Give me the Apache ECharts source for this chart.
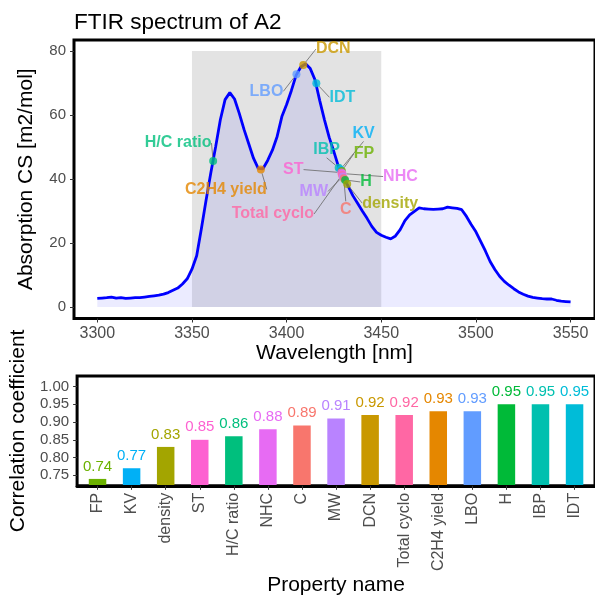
<!DOCTYPE html>
<html>
<head>
<meta charset="utf-8">
<script src="https://cdn.jsdelivr.net/npm/echarts@6/dist/echarts.min.js"></script>
<style>
  html, body { margin: 0; padding: 0; background: #ffffff; }
  #chart { width: 595px; height: 597px; }
</style>
</head>
<body>
<div id="chart"></div>
<script>
// FTIR absorption spectrum (every 2.5 nm)
const wavelength = [
  3300, 3302.5, 3305, 3307.5, 3310, 3312.5, 3315, 3317.5, 3320, 3322.5,
  3325, 3327.5, 3330, 3332.5, 3335, 3337.5, 3340, 3342.5, 3345, 3347.5,
  3350, 3352.5, 3355, 3357.5, 3360, 3362.5, 3365, 3367.5, 3370, 3372.5,
  3375, 3377.5, 3380, 3382.5, 3385, 3387.5, 3390, 3392.5, 3395, 3397.5,
  3400, 3402.5, 3405, 3407.5, 3410, 3412.5, 3415, 3417.5, 3420, 3422.5,
  3425, 3427.5, 3430, 3432.5, 3435, 3437.5, 3440, 3442.5, 3445, 3447.5,
  3450, 3452.5, 3455, 3457.5, 3460, 3462.5, 3465, 3467.5, 3470, 3472.5,
  3475, 3477.5, 3480, 3482.5, 3485, 3487.5, 3490, 3492.5, 3495, 3497.5,
  3500, 3502.5, 3505, 3507.5, 3510, 3512.5, 3515, 3517.5, 3520, 3522.5,
  3525, 3527.5, 3530, 3532.5, 3535, 3537.5, 3540, 3542.5, 3545, 3547.5,
  3550
];
const absorption = [
  2.7, 2.8, 2.9, 3.1, 2.8, 2.9, 2.7, 2.8, 2.9, 2.9,
  3.1, 3.3, 3.5, 3.7, 4.0, 4.5, 5.2, 5.9, 7.2, 8.8,
  11.8, 16.0, 24.5, 33.5, 42.0, 50.0, 58.5, 64.8, 67.0, 65.0,
  60.5, 55.5, 51.0, 46.5, 43.3, 43.2, 45.8, 49.0, 53.3, 59.5,
  63.3, 67.6, 72.4, 75.0, 76.0, 74.5, 71.0, 64.5, 58.5, 53.0,
  48.5, 43.7, 40.3, 37.8, 34.8, 32.4, 30.0, 27.7, 25.2, 23.3,
  22.4, 21.8, 21.3, 22.2, 24.2, 27.0, 28.8, 29.9, 31.0, 30.7,
  30.6, 30.5, 30.6, 30.7, 31.2, 31.0, 30.8, 30.4, 28.3, 25.8,
  23.5, 20.5, 17.5, 14.2, 11.7, 9.6, 8.0, 6.8, 5.7, 4.7,
  4.0, 3.4, 3.0, 2.8, 2.6, 2.5, 2.5, 2.1, 1.8, 1.7,
  1.6
];

// Shaded wavelength window
const shadedBand = [3350, 3450];
const shadedTop = 80;

// Property markers placed on the spectrum
const markerNames = ['H/C ratio', 'C2H4 yield', 'LBO', 'DCN', 'IDT', 'IBP', 'KV', 'FP',
  'ST', 'NHC', 'Total cyclo', 'MW', 'C', 'H', 'density'];
const markerWavelength = [3361.2, 3386.4, 3405.2, 3408.8, 3415.7, 3427.5, 3428.5, 3429.2,
  3428.9, 3429.5, 3429.2, 3429.7, 3430.2, 3430.9, 3432.0];
const markerAbsorption = [45.6, 43.0, 72.7, 75.6, 69.9, 43.5, 43.0, 42.5,
  42.0, 41.7, 41.25, 40.8, 40.2, 39.7, 38.4];

// Correlation coefficients per property
const propertyNames = ['FP', 'KV', 'density', 'ST', 'H/C ratio', 'NHC', 'C', 'MW', 'DCN',
  'Total cyclo', 'C2H4 yield', 'LBO', 'H', 'IBP', 'IDT'];
const correlation = [0.74, 0.77, 0.83, 0.85, 0.86, 0.88, 0.89, 0.91, 0.92,
  0.92, 0.93, 0.93, 0.95, 0.95, 0.95];

// Tick labels
const wavelengthTicks = [3300, 3350, 3400, 3450, 3500, 3550];
const absorptionTicks = [0, 20, 40, 60, 80];
const correlationTicks = [0.75, 0.80, 0.85, 0.90, 0.95, 1.00];

// Hue palette keyed by property
const propertyColors = {
  'C': '#F8766D', 'C2H4 yield': '#E58700', 'DCN': '#C99800', 'density': '#A3A500',
  'FP': '#6BB100', 'H': '#00BA38', 'H/C ratio': '#00BF7D', 'IBP': '#00C0AF',
  'IDT': '#00BCD8', 'KV': '#00B0F6', 'LBO': '#619CFF', 'MW': '#B983FF',
  'NHC': '#E76BF3', 'ST': '#FD61D1', 'Total cyclo': '#FF67A4'
};

// Repelled label placement (pixel offset of label centre from its point)
const labelShift = {
  'H/C ratio': [-35, -18], 'C2H4 yield': [-35, 20], 'LBO': [-30, 17], 'DCN': [30, -16],
  'IDT': [26, 14], 'IBP': [-12, -18], 'KV': [23, -36], 'FP': [22, -17],
  'ST': [-48, -3], 'NHC': [58, 3], 'Total cyclo': [-69, 39], 'MW': [-29, 15],
  'C': [2, 31], 'H': [21, 2], 'density': [43, 19]
};

const FONT = 'Liberation Sans, Arial, Helvetica, sans-serif';
const TICK_GREY = '#4d4d4d';

const chart = echarts.init(document.getElementById('chart'), null, { renderer: 'canvas' });

const option = {
  animation: false,
  backgroundColor: '#ffffff',
  textStyle: { fontFamily: FONT },
  title: {
    text: 'FTIR spectrum of A2',
    left: 69,
    top: 6,
    textStyle: { fontFamily: FONT, fontSize: 22.5, fontWeight: 'normal', color: '#000000' }
  },
  grid: [
    { left: 74, right: -4, top: 40, height: 278.5, show: true, borderColor: '#000000', borderWidth: 3, backgroundColor: 'transparent' },
    { left: 74, right: -4, top: 376, height: 112, show: true, borderColor: '#000000', borderWidth: 3, backgroundColor: 'transparent' }
  ],
  xAxis: [
    {
      type: 'value', gridIndex: 0, min: 3287.7, max: 3562.9,
      axisLine: { show: false, onZero: false },
      splitLine: { show: false },
      axisTick: { show: true, customValues: wavelengthTicks, length: 4, lineStyle: { color: '#333333' } },
      axisLabel: { customValues: wavelengthTicks, formatter: v => String(v), fontSize: 16, color: TICK_GREY, margin: 7, fontFamily: FONT },
      name: 'Wavelength [nm]', nameLocation: 'middle', nameGap: 23,
      nameTextStyle: { fontSize: 21, color: '#000000', fontFamily: FONT }
    },
    {
      type: 'value', gridIndex: 1, min: -0.6, max: 14.6, z: 5,
      axisLine: { show: true, onZero: false, lineStyle: { color: '#000000', width: 3 } },
      splitLine: { show: false },
      axisTick: { show: true, customValues: propertyNames.map((_, i) => i), length: 4, lineStyle: { color: '#333333' } },
      axisLabel: {
        customValues: propertyNames.map((_, i) => i),
        formatter: v => propertyNames[Math.round(v)],
        rotate: 90, fontSize: 16, color: TICK_GREY, margin: 7, fontFamily: FONT
      },
      name: 'Property name', nameLocation: 'middle', nameGap: 86,
      nameTextStyle: { fontSize: 21, color: '#000000', fontFamily: FONT }
    }
  ],
  yAxis: [
    {
      type: 'value', gridIndex: 0, min: -3.6, max: 83.44,
      axisLine: { show: false, onZero: false },
      splitLine: { show: false },
      axisTick: { show: true, customValues: absorptionTicks, length: 4, lineStyle: { color: '#333333' } },
      axisLabel: { customValues: absorptionTicks, formatter: v => String(v), fontSize: 15, color: TICK_GREY, margin: 8, fontFamily: FONT },
      name: 'Absorption CS [m2/mol]', nameLocation: 'middle', nameGap: 37,
      nameTextStyle: { fontSize: 21, color: '#000000', fontFamily: FONT }
    },
    {
      type: 'value', gridIndex: 1, min: 0.7205, max: 1.0295,
      axisLine: { show: false, onZero: false },
      splitLine: { show: false },
      axisTick: { show: true, customValues: correlationTicks, length: 4, lineStyle: { color: '#333333' } },
      axisLabel: {
        customValues: correlationTicks, formatter: v => v.toFixed(2),
        fontSize: 15, color: TICK_GREY, margin: 8, fontFamily: FONT
      },
      name: 'Correlation coefficient', nameLocation: 'middle', nameGap: 37,
      nameTextStyle: { fontSize: 21, color: '#000000', fontFamily: FONT }
    }
  ],
  series: [
    {
      // shaded window behind the spectrum
      type: 'line', xAxisIndex: 0, yAxisIndex: 0, data: [], z: 1, silent: true,
      markArea: {
        silent: true,
        itemStyle: { color: '#e3e3e3' },
        data: [[{ coord: [shadedBand[0], 0] }, { coord: [shadedBand[1], shadedTop] }]]
      }
    },
    {
      type: 'line', xAxisIndex: 0, yAxisIndex: 0, z: 2,
      data: wavelength.map((w, i) => [w, absorption[i]]),
      showSymbol: false, smooth: false,
      lineStyle: { color: '#0000ff', width: 2.8 },
      areaStyle: { color: 'rgba(0, 0, 255, 0.11)' }
    },
    {
      type: 'scatter', xAxisIndex: 0, yAxisIndex: 0, z: 4,
      symbolSize: 8,
      data: markerNames.map((n, i) => ({
        name: n,
        value: [markerWavelength[i], markerAbsorption[i]],
        itemStyle: { color: propertyColors[n] },
        label: { color: propertyColors[n] }
      })),
      label: {
        show: true, position: 'inside', formatter: p => p.name,
        fontSize: 16, fontWeight: 'bold', fontFamily: FONT
      },
      labelLine: { show: true, length2: 0, lineStyle: { color: '#666666', width: 0.8 } },
      labelLayout: p => {
        const s = labelShift[markerNames[p.dataIndex]];
        return { dx: s[0], dy: s[1], hideOverlap: false };
      }
    },
    {
      type: 'bar', xAxisIndex: 1, yAxisIndex: 1, z: 2,
      barWidth: 17.5,
      clip: true,
      data: propertyNames.map((n, i) => ({
        value: [i, correlation[i]],
        itemStyle: { color: propertyColors[n] },
        label: { color: propertyColors[n] }
      })),
      label: {
        show: true, position: 'top', distance: 5,
        formatter: p => p.value[1].toFixed(2),
        fontSize: 15, fontFamily: FONT
      }
    }
  ]
};

chart.setOption(option);
</script>
</body>
</html>
